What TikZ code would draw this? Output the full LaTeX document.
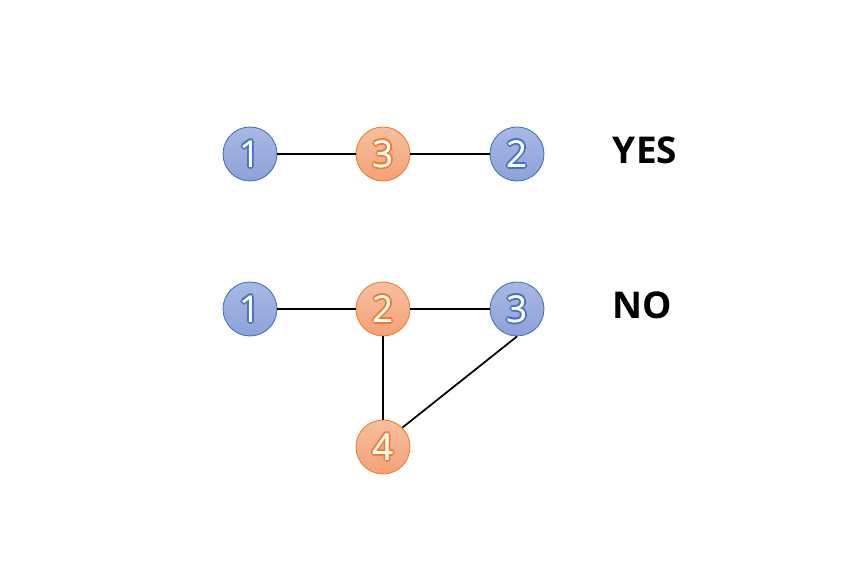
\documentclass[tikz,border=0pt]{standalone}
\usepackage{fontspec}
\setmainfont{Open Sans}
\definecolor{blueEdge}{HTML}{4472C4}
\definecolor{blueTop}{HTML}{A9B8E3}
\definecolor{blueBot}{HTML}{8DA2D8}
\definecolor{orangeEdge}{HTML}{ED7D31}
\definecolor{orangeTop}{HTML}{F7BEA0}
\definecolor{orangeBot}{HTML}{F4A278}
\newcommand{\halodigit}[2]{%
  \leavevmode
  \rlap{\color{#1}\kern-1.1pt #2}\rlap{\color{#1}\kern1.1pt #2}%
  \rlap{\color{#1}\raisebox{1.1pt}{#2}}\rlap{\color{#1}\raisebox{-1.1pt}{#2}}%
  \rlap{\color{#1}\kern-.8pt\raisebox{.8pt}{#2}}\rlap{\color{#1}\kern.8pt\raisebox{.8pt}{#2}}%
  \rlap{\color{#1}\kern-.8pt\raisebox{-.8pt}{#2}}\rlap{\color{#1}\kern.8pt\raisebox{-.8pt}{#2}}%
  \rlap{\color{white}\kern.25pt #2}\textcolor{white}{#2}}
\begin{document}
\begin{tikzpicture}
[lineDecorate/.style={-,line width=1pt,black},%
  nodeDecorate/.style={shape=circle,minimum size=1.08cm,inner sep=0pt,line width=0.5pt,
    font=\fontsize{21}{24}\selectfont},
  blueNode/.style={nodeDecorate,draw=blueEdge,top color=blueTop,bottom color=blueBot},
  orangeNode/.style={nodeDecorate,draw=orangeEdge,top color=orangeTop,bottom color=orangeBot},
  answerDecorate/.style={font=\fontsize{21}{24}\selectfont\bfseries}]
\useasboundingbox (0,0) rectangle (17.08,11.26);
%% nodes or vertices
\foreach \nodename/\x/\y/\kind/\edgecol/\digit in {
  t1/5.00/8.18/blue/blueEdge/1, t3/7.66/8.18/orange/orangeEdge/3, t2/10.34/8.18/blue/blueEdge/2,
  b1/5.00/5.08/blue/blueEdge/1, b2/7.66/5.08/orange/orangeEdge/2, b3/10.34/5.08/blue/blueEdge/3,
  b4/7.66/2.32/orange/orangeEdge/4}
{
  \node (\nodename) at (\x,\y) [\kind Node] {\halodigit{\edgecol}{\digit}};
}
%% answers
\node (yes) at (12.90,8.26) [answerDecorate] {YES};
\node (no) at (12.84,5.16) [answerDecorate] {NO};
%% edges or lines
\path
\foreach \startnode/\endnode in {
  t1/t3, t3/t2, b1/b2, b2/b3, b2/b4}
{
  (\startnode) edge[lineDecorate] (\endnode)
};
\draw[lineDecorate] (b4.north east) -- (b3.south);
\end{tikzpicture}
\end{document}
